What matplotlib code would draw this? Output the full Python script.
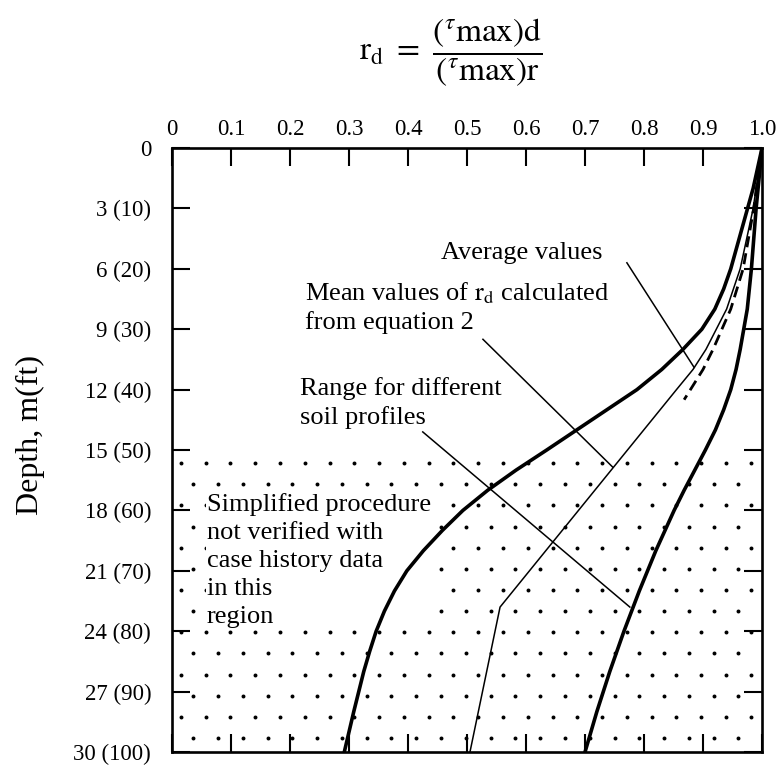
#!/usr/bin/env python3
"""Stress reduction coefficient r_d versus depth (range, mean and average curves)."""
import matplotlib
matplotlib.use("Agg")
import matplotlib.pyplot as plt
import numpy as np

plt.rcParams["font.family"] = ["Liberation Serif", "DejaVu Serif"]
plt.rcParams["mathtext.fontset"] = "stix"

# ---- data (depth in m, r_d dimensionless) ----
lower_depth = [0, 2, 4, 6, 7, 8, 9, 10, 11, 12, 13, 14, 15, 16, 17, 18, 19, 20,
               21, 22, 23, 24, 25, 26, 28, 30]
lower_rd = [1.0, 0.985, 0.966, 0.947, 0.935, 0.92, 0.898, 0.866, 0.83, 0.788, 0.737,
            0.686, 0.635, 0.583, 0.535, 0.493, 0.458, 0.426, 0.398, 0.377, 0.36,
            0.346, 0.335, 0.325, 0.308, 0.292]

upper_depth = [0, 3, 6, 8, 10, 11, 12, 13, 14, 15, 16, 17, 18, 20, 22, 24, 26, 28, 30]
upper_rd = [1.0, 0.99, 0.982, 0.975, 0.963, 0.956, 0.947, 0.935, 0.921, 0.904, 0.886,
            0.868, 0.851, 0.82, 0.792, 0.766, 0.742, 0.72, 0.70]

mean_depth = [0, 3, 6, 8, 10, 11, 12, 22.8, 30]
mean_rd = [1.0, 0.985, 0.963, 0.94, 0.905, 0.883, 0.855, 0.556, 0.505]

avg_depth = [1, 3, 6, 8, 10, 11, 12.5]
avg_rd = [0.995, 0.986, 0.968, 0.947, 0.917, 0.9, 0.868]

stipple_top = 15.3  # m, start of region not verified by case histories

depth_ticks = [0, 3, 6, 9, 12, 15, 18, 21, 24, 27, 30]
depth_labels = ["0", "3 (10)", "6 (20)", "9 (30)", "12 (40)", "15 (50)",
                "18 (60)", "21 (70)", "24 (80)", "27 (90)", "30 (100)"]
rd_ticks = [0, 0.1, 0.2, 0.3, 0.4, 0.5, 0.6, 0.7, 0.8, 0.9, 1.0]
rd_labels = ["0", "0.1", "0.2", "0.3", "0.4", "0.5", "0.6", "0.7", "0.8", "0.9", "1.0"]

fig = plt.figure(figsize=(7.79, 7.71), dpi=100)
ax = fig.add_axes([0.2208, 0.0246, 0.7574, 0.7834])

# stipple texture for the unverified zone (staggered dot grid)
gx = np.arange(0.015, 1.0, 0.042)
gy = np.arange(stipple_top + 0.35, 30, 1.05)
sx, sy = [], []
for i, yv in enumerate(gy):
    off = 0.021 if i % 2 else 0.0
    for xv in gx + off:
        if xv < 0.99:
            sx.append(xv)
            sy.append(yv)
ax.scatter(sx, sy, s=8, color="black", linewidths=0, zorder=1)

ax.plot(lower_rd, lower_depth, color="black", lw=2.6, solid_joinstyle="round", zorder=4)
ax.plot(upper_rd, upper_depth, color="black", lw=2.6, solid_joinstyle="round", zorder=4)
ax.plot(mean_rd, mean_depth, color="black", lw=1.1, zorder=4)
ax.plot(avg_rd, avg_depth, color="black", lw=2.0, ls=(0, (4, 2.2)), zorder=4)

ax.set_xlim(0, 1.0)
ax.set_ylim(30, 0)
ax.xaxis.tick_top()
ax.set_xticks(rd_ticks)
ax.set_xticklabels(rd_labels)
ax.set_yticks(depth_ticks)
ax.set_yticklabels(depth_labels)
ax.tick_params(direction="in", length=13, width=1.5, labelsize=16.5,
               top=True, bottom=True, left=True, right=True)
ax.tick_params(axis="y", pad=15)
ax.tick_params(axis="x", pad=6)
for sp in ax.spines.values():
    sp.set_linewidth(1.9)

ax.set_ylabel("Depth, m(ft)", fontsize=23)
ax.yaxis.set_label_coords(-0.215, 0.525)

# annotations
txt_kw = dict(fontsize=19, zorder=3)
ax.text(0.592, 5.2, "Average values", ha="center", va="center", **txt_kw)
ax.plot([0.771, 0.885], [5.7, 10.9], color="black", lw=1.1, zorder=3)

ax.text(0.225, 7.9, "Mean values of $\\mathrm{r_d}$ calculated\nfrom equation 2",
        ha="left", va="center", linespacing=1.3, **txt_kw)
ax.plot([0.527, 0.747], [9.5, 15.85], color="black", lw=1.1, zorder=3)

ax.text(0.217, 12.67, "Range for different\nsoil profiles",
        ha="left", va="center", linespacing=1.3, **txt_kw)
ax.plot([0.425, 0.776], [14.1, 22.8], color="black", lw=1.1, zorder=3)

ax.text(0.059, 20.5,
        "Simplified procedure\nnot verified with\ncase history data\nin this\nregion",
        ha="left", va="center", linespacing=1.35,
        bbox=dict(facecolor="white", edgecolor="none", pad=0.5), **txt_kw)

fig.text(0.578, 0.933,
         r"$\mathrm{r_d}\ =\ \dfrac{\left({}^{\tau}\mathrm{max}\right)\mathrm{d}}"
         r"{\left({}^{\tau}\mathrm{max}\right)\mathrm{r}}$",
         ha="center", va="center", fontsize=24)

fig.savefig("out.png", dpi=100)
